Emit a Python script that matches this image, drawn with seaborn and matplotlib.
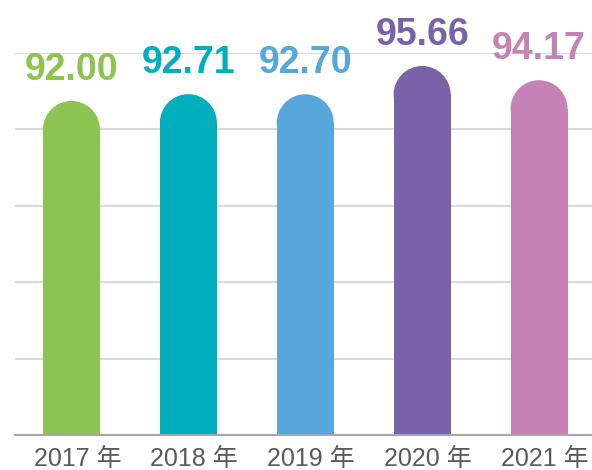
import matplotlib
matplotlib.use("Agg")
import matplotlib.pyplot as plt
import matplotlib.transforms as mtransforms
from matplotlib.patches import Ellipse
import seaborn as sns
import pandas as pd

years = ["2017 年", "2018 年", "2019 年", "2020 年", "2021 年"]
scores = [92.00, 92.71, 92.70, 95.66, 94.17]
colors = ["#8DC451", "#00AEBD", "#57A7DC", "#7A62A8", "#C582B4"]

sns.set_style("white")
plt.rcParams['font.family'] = ['Liberation Sans', 'Noto Sans CJK SC', 'DejaVu Sans']

df = pd.DataFrame({"year": years, "score": scores})

W, H, dpi = 592, 470, 100
fig = plt.figure(figsize=(W / dpi, H / dpi), dpi=dpi)
left, right, top, bottom = 15, 592, 53, 435
ax = fig.add_axes([left / W, (H - bottom) / H, (right - left) / W, (bottom - top) / H])

bar_w = 0.487
sns.barplot(data=df, x="year", y="score", hue="year", palette=colors,
            legend=False, width=bar_w, saturation=1, linewidth=0, ax=ax, zorder=2)

ymin, ymax = 60, 100
ax.set_ylim(ymin, ymax)
ax.set_xlim(-0.483, 4.453)
ax.set_yticks(range(60, 101, 8))
ax.yaxis.grid(True, color="#D9D9D9", linewidth=1.5)
ax.set_axisbelow(True)
ax.tick_params(axis="y", left=False, labelleft=False)
ax.tick_params(axis="x", bottom=False, pad=5.5, labelsize=18, labelcolor="#595959")
ax.set_xlabel("")
ax.set_ylabel("")
for s in ["left", "right", "top"]:
    ax.spines[s].set_visible(False)
ax.spines["bottom"].set_color("#A6A6A6")
ax.spines["bottom"].set_linewidth(1.5)
ax.spines["bottom"].set_zorder(3)

# year labels sit a little right of the bar centres
shift = mtransforms.ScaledTranslation(6 / dpi, 0, fig.dpi_scale_trans)
for lab in ax.get_xticklabels():
    lab.set_transform(lab.get_transform() + shift)

# rounded caps on top of the bars
ax_w_px = right - left
ax_h_px = bottom - top
xlo, xhi = ax.get_xlim()
r_px = bar_w / (xhi - xlo) * ax_w_px / 2
cap_h = 2 * r_px * (ymax - ymin) / ax_h_px
for i, (v, c) in enumerate(zip(scores, colors)):
    ax.add_patch(Ellipse((i, v), bar_w, cap_h, facecolor=c, edgecolor="none",
                         linewidth=0, zorder=2, clip_on=False))
    ax.annotate(f"{v:.2f}", (i, v + cap_h / 2), xytext=(0, 15), textcoords="offset points",
                ha="center", va="baseline", fontsize=27, fontweight="bold", color=c,
                annotation_clip=False)

fig.savefig("out.png", dpi=dpi)
